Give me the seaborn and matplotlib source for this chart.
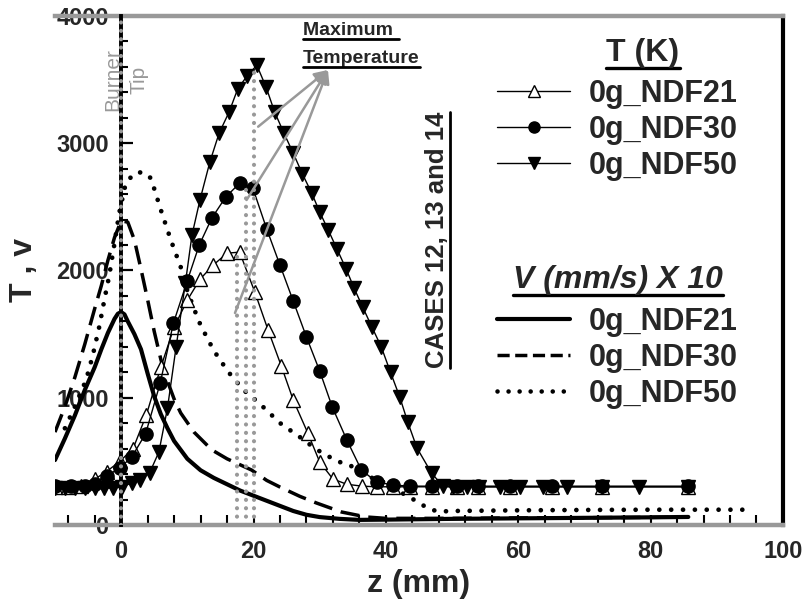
import matplotlib
matplotlib.use("Agg")
import matplotlib.pyplot as plt
import seaborn as sns
from matplotlib.lines import Line2D
from matplotlib.ticker import MultipleLocator

# ---------------- data ----------------
# Temperature (K), markers
z_T21 = [-10, -8, -6, -4, -2.2, -0.2, 1.8, 3.8, 6.0, 8.0, 10.0, 11.9, 13.9, 16.0, 17.9, 20.2, 22.2, 24.2, 26.0, 28.2,
         30.0, 32.0, 34.1, 36.4, 38.6, 41.1, 43.6, 46.9, 50.7, 53.9, 58.7, 65.1, 72.6, 85.6]
T_21 = [300, 300, 310, 360, 420, 500, 600, 864, 1241, 1555, 1767, 1930, 2042, 2136, 2144, 1830, 1532, 1249, 982, 723,
        495, 361, 320, 305, 300, 300, 300, 300, 300, 300, 300, 300, 300, 300]

z_T30 = [-10, -7.6, -5.5, -4, -2.2, -0.2, 1.6, 3.7, 5.9, 7.9, 10.0, 11.8, 13.7, 15.8, 17.9, 19.9, 22.0, 24.0, 26.0, 28.0,
         30.0, 31.9, 34.1, 36.3, 38.6, 41.1, 43.6, 46.9, 50.7, 53.9, 58.7, 65.1, 72.6, 85.6]
T_30 = [310, 310, 310, 320, 385, 448, 534, 718, 1115, 1587, 1920, 2200, 2412, 2577, 2686, 2647, 2325, 2042, 1760, 1477,
        1210, 927, 668, 432, 338, 314, 305, 305, 305, 305, 305, 305, 305, 305]

z_T50 = [-10, -8.5, -7, -5.5, -4, -2.6, -1.3, 0.1, 1.6, 2.8, 4.3, 5.7, 7.0, 8.3, 9.7, 10.7, 11.9, 13.4,
         14.8, 16.3, 17.6, 19.0, 20.5, 21.9, 23.2, 24.6, 26.0, 27.4, 28.8, 30.0, 31.3, 32.6, 34.0, 35.2, 36.5, 37.9,
         39.3, 40.7, 42.1, 43.3, 44.7, 46.9, 48.6, 50.1, 52.2, 54.1, 57.2, 60.2, 63.7, 67.3, 72.7, 78.3, 85.6]
T_50 = [290, 290, 290, 290, 290, 290, 290, 300, 330, 350, 410, 573, 919, 1398, 1900, 2278, 2553, 2852,
        3079, 3244, 3425, 3527, 3613, 3441, 3244, 3079, 2922, 2757, 2608, 2459, 2317, 2170, 2011, 1861, 1712, 1555,
        1400, 1200, 1005, 809, 605, 408, 306, 300, 300, 300, 300, 300, 300, 300, 300, 300, 300]

# Velocity (mm/s) x 10, lines only
z_V21 = [-10, -8.5, -7, -5.5, -4, -3, -2, -1, -0.5, 0, 0.5, 1, 2, 3, 4, 5, 6, 7, 8, 9, 10, 12, 14, 16, 18, 20, 22,
         24, 26, 28, 30, 33, 36, 40, 50, 60, 70, 80, 85.7]
V_21 = [510, 680, 860, 1060, 1240, 1380, 1510, 1620, 1660, 1673, 1655, 1600, 1500, 1380, 1190, 1010, 870, 760, 660,
        590, 520, 430, 370, 320, 270, 230, 190, 150, 110, 80, 62, 48, 40, 42, 48, 52, 56, 60, 63]

z_V30 = [-10, -8.5, -7, -5.5, -4, -3, -2, -1, 0, 1, 2, 3, 4, 5, 6, 7, 8, 9, 11, 13.7, 16, 19.7, 22, 24, 27, 29.5,
         33.3, 37, 40, 50, 60, 70, 80, 85.7]
V_30 = [730, 930, 1160, 1420, 1700, 1880, 2080, 2260, 2390, 2380, 2240, 2010, 1770, 1520, 1300, 1130, 990, 880,
        730, 590, 520, 432, 350, 298, 225, 173, 102, 63, 52, 52, 55, 57, 60, 62]

z_V50 = [-8.5, -7, -5.3, -4.3, -3.3, -2.5, -1.8, -1, -0.3, 0.7, 2, 3.3, 4.5, 6, 7.5, 9, 10, 11, 12, 14,
         16.2, 18.5, 20.8, 24, 27, 29, 30.4, 31.8, 33, 34.5, 36.5, 38.5, 40.5, 42.3, 43.8, 45.3, 46.5, 48, 50, 60,
         70, 80, 94.5]
V_50 = [760, 930, 1140, 1330, 1560, 1780, 1960, 2215, 2450, 2686, 2765, 2773, 2725, 2475, 2240, 2027, 1840, 1700,
        1570, 1370, 1202, 1060, 960, 801, 691, 613, 565, 526, 495, 471, 410, 353, 327, 255, 212, 165, 126, 105,
        110, 115, 118, 120, 120]

# maximum temperature markers
peak_z = [17.5, 18.8, 20.1]
peak_T = [2144, 2655, 3570]
arrow_start_z = [20.7, 18.95, 17.2]
arrow_start_T = [3130, 2554, 1666]
arrow_tip = (31.25, 3576)
burner_z = 0

labels = ["0g_NDF21", "0g_NDF30", "0g_NDF50"]

# ---------------- style ----------------
sns.set_style("white")
plt.rcParams["font.family"] = ["Liberation Sans", "DejaVu Sans"]
GRAY = "#999999"

fig = plt.figure(figsize=(8.05, 6.03), dpi=100)
ax = fig.add_axes([0.0683, 0.1294, 0.9043, 0.8441])

# velocity curves
sns.lineplot(x=z_V21, y=V_21, ax=ax, color="black", linewidth=3.0, estimator=None, sort=False)
sns.lineplot(x=z_V30, y=V_30, ax=ax, color="black", linewidth=2.5, estimator=None, sort=False,
             linestyle=(0, (5.5, 2.6)))
sns.lineplot(x=z_V50, y=V_50, ax=ax, color="black", linewidth=3.4, estimator=None, sort=False,
             linestyle=(0, (0.01, 2.5)), dash_capstyle="round")

# temperature curves
sns.lineplot(x=z_T21, y=T_21, ax=ax, color="black", linewidth=1.0, estimator=None, sort=False,
             marker="^", markersize=9.5, markerfacecolor="white", markeredgecolor="black", markeredgewidth=1.0)
sns.lineplot(x=z_T30, y=T_30, ax=ax, color="black", linewidth=1.0, estimator=None, sort=False,
             marker="o", markersize=9.5, markerfacecolor="black", markeredgecolor="black", markeredgewidth=1.0)
sns.lineplot(x=z_T50, y=T_50, ax=ax, color="black", linewidth=1.0, estimator=None, sort=False,
             marker="v", markersize=9.5, markerfacecolor="black", markeredgecolor="black", markeredgewidth=1.0)

# vertical dotted lines at maxima
ax.vlines(peak_z, 0, peak_T, colors=GRAY, linewidth=3.0, linestyles=[(0, (0.01, 2.0))],
          capstyle="round", zorder=4)
# burner tip line
ax.axvline(burner_z, color=GRAY, linewidth=3.0, linestyle=(0, (0.01, 2.0)), dash_capstyle="round", zorder=6)

# arrows
for sx, sy in zip(arrow_start_z, arrow_start_T):
    ax.annotate("", xy=arrow_tip, xytext=(sx, sy),
                arrowprops=dict(arrowstyle="-|>", color=GRAY, lw=1.8, mutation_scale=20,
                                shrinkA=0, shrinkB=0), zorder=5)

# axes
ax.set_xlim(-10, 100)
ax.set_ylim(0, 4000)
ax.xaxis.set_major_locator(MultipleLocator(20))
ax.xaxis.set_minor_locator(MultipleLocator(4))
ax.yaxis.set_major_locator(MultipleLocator(1000))
ax.yaxis.set_minor_locator(MultipleLocator(200))
ax.xaxis.set_ticks_position("bottom")
ax.yaxis.set_ticks_position("left")

ax.spines["left"].set_position(("data", 0))
ax.spines["left"].set_color("black")
ax.spines["left"].set_linewidth(2.8)
ax.spines["left"].set_zorder(5.5)
ax.spines["top"].set_color(GRAY)
ax.spines["top"].set_linewidth(3.2)
ax.spines["bottom"].set_color(GRAY)
ax.spines["bottom"].set_linewidth(3.2)
ax.spines["right"].set_color("black")
ax.spines["right"].set_linewidth(3.0)
for s in ax.spines.values():
    s.set_visible(True)

ax.tick_params(axis="x", which="both", direction="in", length=7, width=1.5, color="black",
               labelsize=17, pad=11)
ax.tick_params(axis="y", which="major", direction="in", length=8.5, width=1.6, color="black",
               labelsize=17, pad=9)
ax.tick_params(axis="y", which="minor", direction="in", length=5, width=1.5, color="black")
for lbl in ax.get_xticklabels() + ax.get_yticklabels():
    lbl.set_fontweight("bold")

ax.set_xlabel("z (mm)", fontsize=23, fontweight="bold", labelpad=4)
ax.set_ylabel("T , v", fontsize=23, fontweight="bold")
ax.yaxis.set_label_coords(-0.022, 0.5)

# texts
ax.text(0.75, 3500, "Burner\nTip", rotation=90, color=GRAY, fontsize=15, ha="center", va="center",
        multialignment="center", linespacing=1.45, fontweight="medium")
t_max = ax.text(27.5, 3889, "Maximum ", fontsize=14, fontweight="bold", ha="left", va="center")
t_temp = ax.text(27.5, 3669, "Temperature", fontsize=14, fontweight="bold", ha="left", va="center")
t_cases = ax.text(47.7, 2240, "CASES 12, 13 and 14", rotation=90, fontsize=18.5, fontweight="bold",
                  ha="center", va="center")

W, H = 805.0, 603.0
t_TK = fig.text(643 / W, 1 - 53 / H, "T (K)", fontsize=23, fontweight="bold", ha="center", va="center")
t_V = fig.text(618 / W, 1 - 280 / H, "V (mm/s) X 10", fontsize=23, fontweight="bold", fontstyle="italic",
               ha="center", va="center")

# legends
h_T = [Line2D([], [], color="black", lw=1.0, marker="^", ms=8, mfc="white", mec="black"),
       Line2D([], [], color="black", lw=1.0, marker="o", ms=8, mfc="black", mec="black"),
       Line2D([], [], color="black", lw=1.0, marker="v", ms=8, mfc="black", mec="black")]
h_V = [Line2D([], [], color="black", lw=3.0),
       Line2D([], [], color="black", lw=2.5, linestyle=(0, (3.5, 1.6))),
       Line2D([], [], color="black", lw=3.3, linestyle=(0, (0.01, 2.4)), dash_capstyle="round")]

leg1 = fig.legend(h_T, labels, loc="center left", bbox_to_anchor=(497 / W, 1 - 130 / H), frameon=False,
                  prop=dict(size=22, weight="bold"), handlelength=2.4, handletextpad=0.6,
                  labelspacing=0.2, borderpad=0, borderaxespad=0)
leg2 = fig.legend(h_V, labels, loc="center left", bbox_to_anchor=(497 / W, 1 - 358 / H), frameon=False,
                  prop=dict(size=22, weight="bold"), handlelength=2.4, handletextpad=0.6,
                  labelspacing=0.2, borderpad=0, borderaxespad=0)

# underlines
fig.canvas.draw()
r = fig.canvas.get_renderer()


def underline(t, lw=2.0, off=1.0):
    bb = t.get_window_extent(r)
    y = bb.y0 - off
    fig.add_artist(Line2D([bb.x0 / W, bb.x1 / W], [y / H, y / H], transform=fig.transFigure,
                          color="black", lw=lw))


underline(t_max, 2.0, 0.5)
underline(t_temp, 2.0, 0.5)
underline(t_TK, 2.4, 0.0)
underline(t_V, 2.4, 0.0)
bb = t_cases.get_window_extent(r)
fig.add_artist(Line2D([(bb.x1 + 1) / W, (bb.x1 + 1) / W], [bb.y0 / H, bb.y1 / H], transform=fig.transFigure,
                      color="black", lw=2.0))

fig.savefig("out.png", dpi=100)
